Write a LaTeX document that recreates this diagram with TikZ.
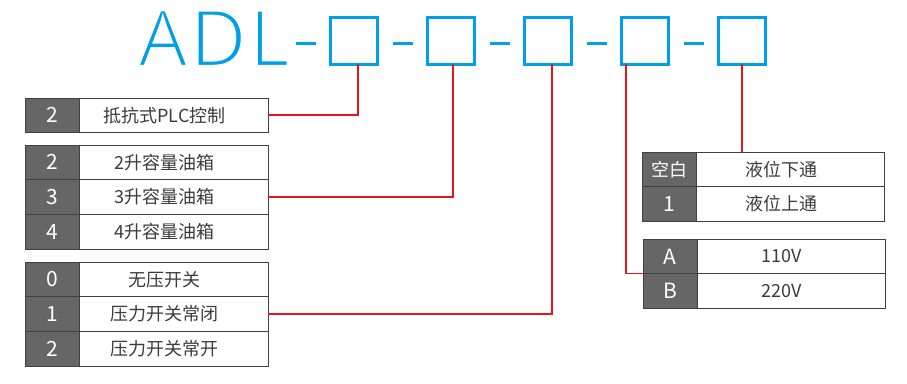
\documentclass[tikz,border=0pt]{standalone}
\usepackage{fontspec}
\setmainfont{Noto Sans CJK SC}
\newfontfamily\titlefont{Open Sans}
\usetikzlibrary{positioning}
\definecolor{adlblue}{HTML}{00A0E9}
\definecolor{linkred}{HTML}{E8141E}
\definecolor{keygray}{HTML}{666666}
\definecolor{rulegray}{HTML}{404040}
\definecolor{txtgray}{HTML}{3C3C3C}
\newcommand\thinletters[1]{\special{pdf:literal direct 2 Tr 1 1 1 RG 2.4 w}#1\special{pdf:literal direct 0 Tr}}
\tikzset{
  keycell/.style = {rectangle, draw=rulegray, line width=0.8pt, fill=keygray, text=white, minimum width=54pt, minimum height=34.7pt, inner sep=0pt, outer sep=0pt, font=\fontsize{21}{21}\selectfont},
  valcell/.style = {rectangle, draw=rulegray, line width=0.8pt, fill=white, text=txtgray, minimum width=189pt, minimum height=34.7pt, inner sep=0pt, outer sep=0pt, font=\fontsize{18}{18}\selectfont, execute at begin node={\hspace*{-18pt}}},
  codebox/.style = {rectangle, draw=adlblue, line width=3pt, minimum size=47pt, inner sep=0pt, outer sep=0pt},
  dashbar/.style = {rectangle, fill=adlblue, minimum width=20pt, minimum height=3pt, inner sep=0pt},
  link/.style = {draw=linkred, line width=1.4pt}
}
\begin{document}
\begin{tikzpicture}[x=1pt, y=-1pt]
\useasboundingbox (0,0) rectangle (907,383);

% Model code boxes
\foreach \i in {1,...,5}{
  \node[dashbar] (d\i) at ({306+97*(\i-1)},43) {};
  \node[codebox] (b\i) at ({354+97*(\i-1)},40.5) {};
}

% Control type
\node[keycell, anchor=north west] (k1) at (25,98) {2};
\node[valcell, right=0pt of k1] (v1) {抵抗式PLC控制};

% Oil tank
\node[keycell, anchor=north west] (k2a) at (25,145) {2};
\node[valcell, right=0pt of k2a] (v2a) {2升容量油箱};
\node[keycell, below=0pt of k2a] (k2b) {3};
\node[valcell, right=0pt of k2b] (v2b) {3升容量油箱};
\node[keycell, below=0pt of k2b] (k2c) {4};
\node[valcell, right=0pt of k2c] (v2c) {4升容量油箱};

% Pressure switch
\node[keycell, anchor=north west] (k3a) at (25,262) {0};
\node[valcell, right=0pt of k3a] (v3a) {无压开关};
\node[keycell, below=0pt of k3a] (k3b) {1};
\node[valcell, right=0pt of k3b] (v3b) {压力开关常闭};
\node[keycell, below=0pt of k3b] (k3c) {2};
\node[valcell, right=0pt of k3c] (v3c) {压力开关常开};

% Level switch
\node[keycell, anchor=north west] (k4a) at (642,152) {\fontsize{18}{18}\selectfont 空白};
\node[valcell, right=0pt of k4a, minimum width=188pt] (v4a) {液位下通};
\node[keycell, below=0pt of k4a] (k4b) {1};
\node[valcell, right=0pt of k4b, minimum width=188pt] (v4b) {液位上通};

% Voltage
\node[keycell, anchor=north west] (k5a) at (643,239) {A};
\node[valcell, right=0pt of k5a, minimum width=188pt] (v5a) {110V};
\node[keycell, below=0pt of k5a] (k5b) {B};
\node[valcell, right=0pt of k5b, minimum width=188pt] (v5b) {220V};

% Links
\draw[link] ([xshift=4pt]b1.south) |- ([yshift=0.35pt]v1.east);
\draw[link] ([xshift=2pt]b2.south) |- (v2b.east);
\draw[link] ([xshift=4pt]b3.south) |- (v3b.east);
\draw[link] ([xshift=-19pt]b4.south) |- (k5a.south west);
\draw[link] (b5.south) -- (b5.south |- v4a.north);

% Model name (drawn last)
\node[anchor=base west, inner sep=0pt, text=adlblue, font=\titlefont\fontsize{78}{78}\selectfont] (title) at (138,66) {\addfontfeature{LetterSpace=3}\thinletters{ADL}};

\end{tikzpicture}
\end{document}
